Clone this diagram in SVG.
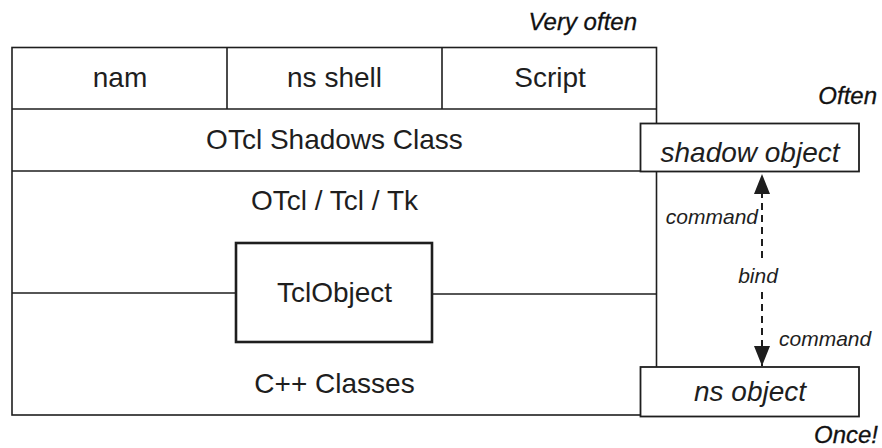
<svg xmlns="http://www.w3.org/2000/svg" width="882" height="448" viewBox="0 0 882 448">
<defs>
<style>
.ln{stroke:#1e1e1e;stroke-width:1.6;fill:none}
.bx{stroke:#1e1e1e;stroke-width:1.8;fill:#fff}
.t{font-family:"Liberation Sans",Arial,sans-serif;font-size:28px;fill:#1e1e1e;text-anchor:middle}
.ti{font-family:"Liberation Sans",Arial,sans-serif;font-size:28px;font-style:italic;fill:#1e1e1e;text-anchor:middle}
.lab{font-family:"Liberation Sans",Arial,sans-serif;font-size:24px;font-style:italic;fill:#111;stroke:#111;stroke-width:0.3}
.cmd{font-family:"Liberation Sans",Arial,sans-serif;font-size:21px;font-style:italic;fill:#1e1e1e}
.dash{stroke:#1e1e1e;stroke-width:2;stroke-dasharray:7 5;fill:none}
</style>
<marker id="ah" viewBox="0 0 20 18" refX="20" refY="9" markerWidth="20" markerHeight="18" markerUnits="userSpaceOnUse" orient="auto">
<path d="M0,1 L20,9 L0,17 Z" fill="#1e1e1e"/>
</marker>
</defs>
<g id="frame">
<rect class="ln" x="12" y="47.5" width="644.5" height="367.5"/>
<line class="ln" x1="12" y1="109" x2="656.5" y2="109"/>
<line class="ln" x1="12" y1="171" x2="656.5" y2="171"/>
<line class="ln" x1="227" y1="47.5" x2="227" y2="109"/>
<line class="ln" x1="442" y1="47.5" x2="442" y2="109"/>
<line class="ln" x1="12" y1="293" x2="236" y2="293"/>
<line class="ln" x1="432" y1="294" x2="656.5" y2="294"/>
</g>
<g id="nam"><text class="t" x="120" y="87">nam</text></g>
<g id="ns-shell"><text class="t" x="334.5" y="87">ns shell</text></g>
<g id="script"><text class="t" x="550" y="87">Script</text></g>
<g id="otcl-shadows"><text class="t" x="334.5" y="149">OTcl Shadows Class</text></g>
<g id="otcl-tcl-tk"><text class="t" x="334.5" y="210">OTcl / Tcl / Tk</text></g>
<g id="tclobject">
<rect x="236" y="243" width="196" height="99" fill="#fff" stroke="#1e1e1e" stroke-width="2.6"/>
<text class="t" x="334.5" y="302">TclObject</text>
</g>
<g id="cpp-classes"><text class="t" x="334.5" y="393">C++ Classes</text></g>
<g id="shadow-object">
<rect class="bx" x="640.5" y="123.5" width="218.5" height="48"/>
<text class="ti" x="750" y="162">shadow object</text>
</g>
<g id="ns-object">
<rect class="bx" x="640.5" y="367" width="218.5" height="49.5"/>
<text class="ti" x="750" y="401">ns object</text>
</g>
<g id="connectors">
<line class="dash" x1="762" y1="258" x2="762" y2="174" marker-end="url(#ah)"/>
<line class="dash" x1="762" y1="292" x2="762" y2="366" marker-end="url(#ah)"/>
</g>
<g id="labels">
<text class="lab" x="637" y="30" text-anchor="end">Very often</text>
<text class="lab" x="877" y="104" text-anchor="end">Often</text>
<text class="lab" x="878" y="443" text-anchor="end">Once!</text>
<text class="cmd" x="758" y="224" text-anchor="end">command</text>
<text class="cmd" x="758" y="283" text-anchor="middle">bind</text>
<text class="cmd" x="779" y="346">command</text>
</g>
</svg>
